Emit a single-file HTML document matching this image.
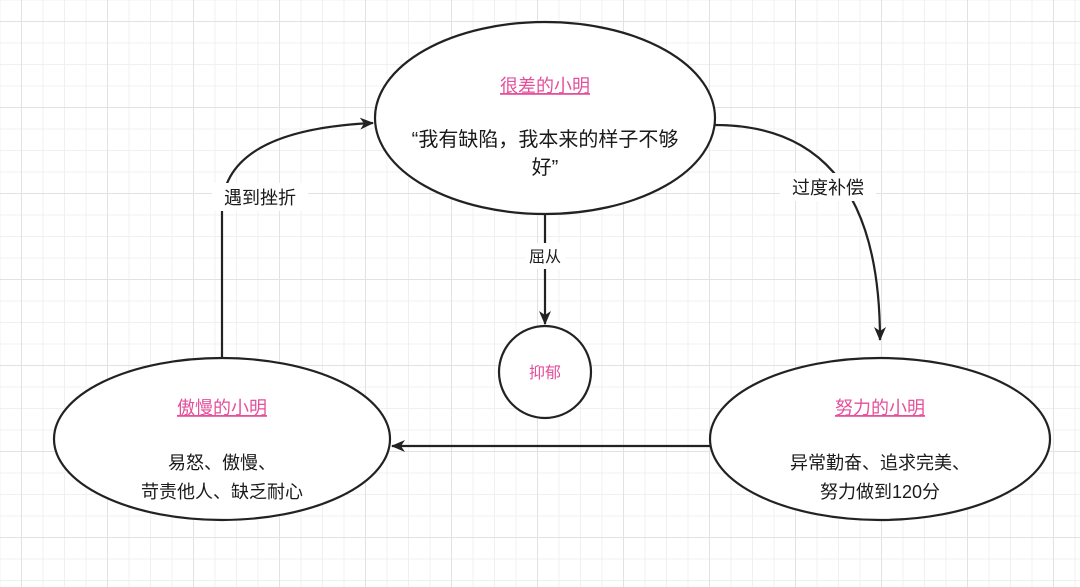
<!DOCTYPE html>
<html><head><meta charset="utf-8"><style>
html,body{margin:0;padding:0;}
body{width:1080px;height:587px;overflow:hidden;background:#fff;
background-image:
linear-gradient(#e2e2e2 1px,transparent 1px),
linear-gradient(90deg,#e2e2e2 1px,transparent 1px),
linear-gradient(#f0f0f0 1px,transparent 1px),
linear-gradient(90deg,#f0f0f0 1px,transparent 1px);
background-size:86px 86px,86px 86px,21.5px 21.5px,21.5px 21.5px;
background-position:0 21px,21px 0,0 21px,21px 0;}
svg{position:absolute;left:0;top:0;}
text{font-family:"Liberation Sans","Noto Sans CJK SC",sans-serif;font-size:18px;fill:#1a1a1a;}
.t{fill:#e4509c;text-decoration:underline;}
</style></head><body>
<svg width="1080" height="587" viewBox="0 0 1080 587">
<defs><marker id="a" markerWidth="14" markerHeight="14" refX="13" refY="7" orient="auto" markerUnits="userSpaceOnUse"><path d="M0,1 L14,7 L0,13 L4,7z" fill="#222"/></marker></defs>
<g fill="none" stroke="#222" stroke-width="2.2">
<ellipse cx="545" cy="118" rx="170" ry="96" fill="#fff"/>
<ellipse cx="222" cy="439" rx="168" ry="81" fill="#fff"/>
<ellipse cx="880" cy="439" rx="170" ry="81" fill="#fff"/>
<circle cx="545" cy="372" r="46" fill="#fff"/>
<path d="M222,358 L222,210 Q222,130 373,123" marker-end="url(#a)"/>
<path d="M715,125 Q880,125 880,340" marker-end="url(#a)"/>
<path d="M710,446 L392,446" marker-end="url(#a)"/>
<path d="M545,214 L545,324" marker-end="url(#a)"/>
</g>
<rect x="212" y="183" width="96" height="28" fill="#fff"/>
<rect x="780" y="173" width="96" height="28" fill="#fff"/>
<rect x="525" y="243" width="40" height="26" fill="#fff"/>
<text x="260" y="204" text-anchor="middle">遇到挫折</text>
<text x="828" y="194" text-anchor="middle">过度补偿</text>
<text x="545" y="262" text-anchor="middle" style="font-size:16px">屈从</text>
<text class="t" x="545" y="92" text-anchor="middle" style="font-size:18px">很差的小明</text>
<text x="545" y="146" text-anchor="middle" style="font-size:20px">“我有缺陷，我本来的样子不够</text>
<text x="545" y="174" text-anchor="middle" style="font-size:20px">好”</text>
<text class="t" x="545" y="378" text-anchor="middle" style="font-size:16px;text-decoration:none">抑郁</text>
<text class="t" x="222" y="414" text-anchor="middle">傲慢的小明</text>
<text x="222" y="469" text-anchor="middle">易怒、傲慢、</text>
<text x="222" y="498" text-anchor="middle">苛责他人、缺乏耐心</text>
<text class="t" x="880" y="414" text-anchor="middle">努力的小明</text>
<text x="880" y="469" text-anchor="middle">异常勤奋、追求完美、</text>
<text x="880" y="498" text-anchor="middle">努力做到120分</text>
</svg>
</body></html>
